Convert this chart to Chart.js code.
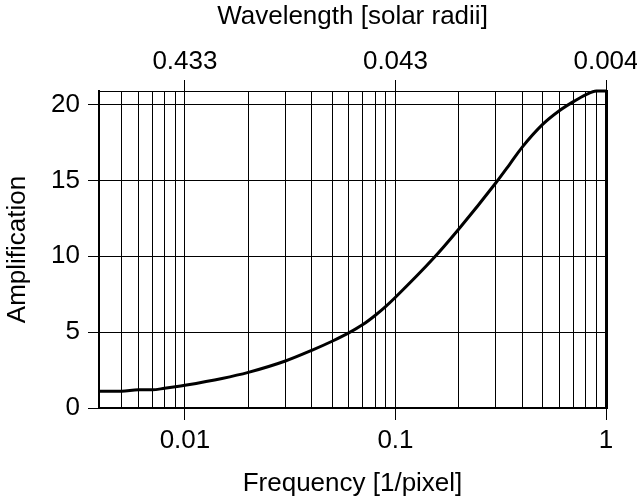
<!DOCTYPE html>
<html>
<head>
<meta charset="utf-8">
<script src="https://cdn.jsdelivr.net/npm/chart.js@4.4.1/dist/chart.umd.min.js"></script>
<style>
    html, body { margin: 0; padding: 0; background: #fff; }
    #wrap { width: 637px; height: 502px; }
</style>
</head>
<body>
<div id="wrap"><canvas id="ampChart" width="637" height="502"></canvas></div>
<script>
// Amplification curve (frequency in 1/pixel)
const frequency = [0.00390625, 0.005, 0.006, 0.007, 0.008, 0.009, 0.01, 0.015, 0.02, 0.03, 0.04,
                   0.05, 0.06, 0.07, 0.08, 0.09, 0.1, 0.15, 0.2, 0.3, 0.35, 0.4, 0.5, 0.6, 0.7, 0.8, 0.9, 1];
const amplification = [1.1, 1.1, 1.2, 1.2, 1.3, 1.4, 1.5, 1.95, 2.35, 3.1, 3.8,
                       4.4, 4.95, 5.5, 6.1, 6.7, 7.3, 9.8, 11.8, 14.85, 16.1, 17.2, 18.7, 19.6, 20.2, 20.65, 20.9, 20.9];

// grid lines / tick labels
const freqGrid = [0.005, 0.006, 0.007, 0.008, 0.009,
                  0.01, 0.02, 0.03, 0.04, 0.05, 0.06, 0.07, 0.08, 0.09,
                  0.1, 0.2, 0.3, 0.4, 0.5, 0.6, 0.7, 0.8, 0.9, 1];
const freqMajor = [0.01, 0.1, 1];
const freqLabels = ['0.01', '0.1', '1'];
const wavelengthLabels = ['0.433', '0.043', '0.004'];
const ampTicks = [0, 5, 10, 15, 20];

const FREQ_MIN = 0.00390625, FREQ_MAX = 1;
const AMP_MAX = 20.9;

const font = { family: "'Liberation Sans', Arial, sans-serif", size: 26 };
const black = '#000';
const clear = 'rgba(0,0,0,0)';

const isMajor = v => freqMajor.indexOf(v) !== -1;

// keep the plot box fixed: no extra room for overhanging labels
function fixBox(s, size) {
    if (s.isHorizontal()) s.height = size; else s.width = size;
    s.paddingLeft = s.paddingRight = s.paddingTop = s.paddingBottom = 0;
}

new Chart(document.getElementById('ampChart'), {
    type: 'line',
    data: {
        datasets: [{
            data: frequency.map((f, i) => ({ x: f, y: amplification[i] })),
            borderColor: black,
            borderWidth: 3,
            pointRadius: 0,
            cubicInterpolationMode: 'monotone',
            clip: false,
            xAxisID: 'x',
            yAxisID: 'y'
        }]
    },
    options: {
        responsive: false,
        animation: false,
        devicePixelRatio: 1,
        layout: { padding: 0 },
        plugins: { legend: { display: false }, tooltip: { enabled: false } },
        scales: {
            x: {
                type: 'logarithmic',
                position: 'bottom',
                min: FREQ_MIN, max: FREQ_MAX,
                bounds: 'data',
                afterBuildTicks: s => { s.ticks = freqGrid.map(v => ({ value: v })); },
                afterFit: s => fixBox(s, 94),
                grid: {
                    color: black, lineWidth: 1,
                    tickLength: 12,
                    tickColor: ctx => (ctx.tick && isMajor(ctx.tick.value)) ? black : clear
                },
                border: { color: black, width: 2 },
                ticks: {
                    autoSkip: false, maxRotation: 0, padding: 5,
                    color: black, font: font,
                    callback: v => isMajor(v) ? freqLabels[freqMajor.indexOf(v)] : ''
                },
                title: {
                    display: true, text: 'Frequency [1/pixel]',
                    color: black, font: font, padding: { top: 0, bottom: 3 }
                }
            },
            x2: {
                type: 'logarithmic',
                position: 'top',
                min: FREQ_MIN, max: FREQ_MAX,
                bounds: 'data',
                afterBuildTicks: s => { s.ticks = freqMajor.map(v => ({ value: v })); },
                afterFit: s => fixBox(s, 91),
                grid: { drawOnChartArea: false, color: black, tickLength: 11 },
                border: { color: black, width: 1 },
                ticks: {
                    autoSkip: false, maxRotation: 0, padding: 3,
                    color: black, font: font,
                    callback: v => wavelengthLabels[freqMajor.indexOf(v)]
                },
                title: {
                    display: true, text: 'Wavelength [solar radii]',
                    color: black, font: font, padding: { top: 1, bottom: 0 }
                }
            },
            y: {
                type: 'linear',
                position: 'left',
                min: 0, max: AMP_MAX,
                afterBuildTicks: s => { s.ticks = ampTicks.map(v => ({ value: v })); },
                afterFit: s => fixBox(s, 99),
                grid: { color: black, lineWidth: 1, tickLength: 11 },
                border: { color: black, width: 2 },
                ticks: { padding: 8, color: black, font: font },
                title: {
                    display: true, text: 'Amplification',
                    color: black, font: font, padding: { top: 2, bottom: 0 }
                }
            },
            y2: {
                type: 'linear',
                position: 'right',
                afterFit: s => fixBox(s, 31),
                grid: { display: false },
                border: { color: black, width: 3 },
                ticks: { display: false }
            }
        }
    }
});
</script>
</body>
</html>
